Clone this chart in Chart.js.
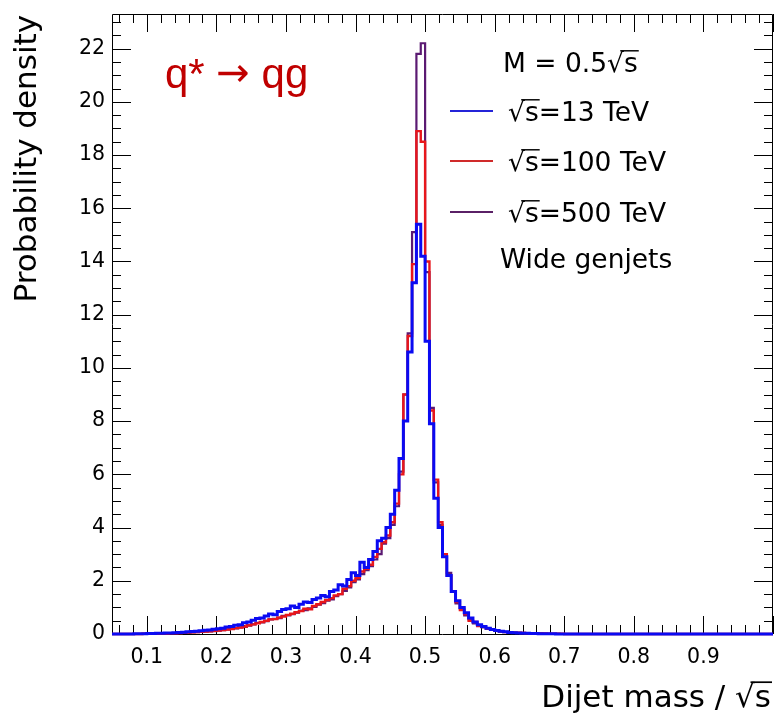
<!DOCTYPE html>
<html><head><meta charset="utf-8">
<script src="https://cdn.jsdelivr.net/npm/chart.js@4.4.0/dist/chart.umd.min.js"></script>
<style>html,body{margin:0;padding:0;background:#fff;}canvas{display:block}</style>
</head><body>
<canvas id="c" width="774" height="715"></canvas>
<script>
// ---- data ----
const BIN_START = 0.05;
const BIN_WIDTH = 0.00625;
const xTickValues = [0.1,0.2,0.3,0.4,0.5,0.6,0.7,0.8,0.9];
const xTickLabels = ['0.1','0.2','0.3','0.4','0.5','0.6','0.7','0.8','0.9'];
const yTickValues = [0,2,4,6,8,10,12,14,16,18,20,22];
const yTickLabels = ['0','2','4','6','8','10','12','14','16','18','20','22'];
const seriesLabels = ['=13 TeV','=100 TeV','=500 TeV'];

const sqrt13 = [
0,0,0,0,0,0,0.01,0.01,0.01,0.02,
0.02,0.03,0.03,0.04,0.04,0.05,0.06,0.07,0.08,0.09,
0.10,0.12,0.14,0.15,0.18,0.20,0.22,0.26,0.28,0.33,
0.35,0.42,0.45,0.52,0.58,0.60,0.68,0.75,0.72,0.85,
0.92,0.95,1.05,1.00,1.12,1.20,1.18,1.30,1.35,1.45,
1.40,1.60,1.65,1.85,1.80,2.05,2.30,2.20,2.70,2.50,
2.80,3.10,3.50,3.60,4.00,4.50,5.40,6.60,8.00,10.6,
13.2,15.4,14.2,11.0,7.9,5.1,4.0,2.9,2.2,1.6,
1.25,1.0,0.8,0.6,0.45,0.35,0.28,0.22,0.17,0.13,
0.10,0.08,0.06,0.05,0.04,0.03,0.03,0.02,0.02,0.01,
0.01,0.01,0.01,0,0,0,0,0,0,0,
0,0,0,0,0,0,0,0,0,0,
0,0,0,0,0,0,0,0,0,0,
0,0,0,0,0,0,0,0,0,0,
0,0,0,0,0,0,0,0,0,0,
0,0];

const sqrt100 = [
0,0,0,0,0,0,0,0,0.01,0.01,
0.01,0.02,0.02,0.02,0.03,0.03,0.04,0.05,0.05,0.06,
0.07,0.08,0.09,0.10,0.12,0.13,0.15,0.17,0.19,0.22,
0.24,0.28,0.33,0.36,0.40,0.45,0.50,0.55,0.56,0.62,
0.66,0.72,0.76,0.82,0.86,0.95,0.93,1.05,1.12,1.20,
1.28,1.35,1.45,1.50,1.70,1.80,2.00,2.10,2.35,2.45,
2.60,2.90,3.20,3.45,3.70,4.20,4.90,6.00,9.00,11.2,
13.9,18.9,18.5,14.0,8.4,5.8,4.2,3.0,2.2,1.6,
1.2,0.9,0.75,0.5,0.45,0.3,0.27,0.2,0.16,0.12,
0.10,0.07,0.07,0.05,0.05,0.04,0.03,0.03,0.02,0.02,
0.02,0.01,0.01,0.01,0.01,0,0,0,0,0,
0,0,0,0,0,0,0,0,0,0,
0,0,0,0,0,0,0,0,0,0,
0,0,0,0,0,0,0,0,0,0,
0,0,0,0,0,0,0,0,0,0,
0,0];

const sqrt500 = [
0,0,0,0,0,0,0,0,0.01,0.01,
0.01,0.01,0.02,0.02,0.03,0.03,0.03,0.04,0.05,0.06,
0.07,0.08,0.09,0.10,0.11,0.13,0.14,0.17,0.20,0.21,
0.25,0.27,0.31,0.36,0.42,0.44,0.48,0.55,0.57,0.60,
0.68,0.70,0.75,0.80,0.88,0.90,0.96,1.02,1.10,1.16,
1.25,1.30,1.42,1.50,1.62,1.75,1.95,2.05,2.25,2.40,
2.55,2.80,3.00,3.40,3.60,4.10,4.80,6.10,9.00,11.3,
15.1,21.8,22.2,13.6,8.5,5.7,4.1,3.0,2.3,1.6,
1.15,0.95,0.7,0.55,0.4,0.32,0.25,0.2,0.15,0.12,
0.09,0.08,0.06,0.05,0.04,0.04,0.03,0.02,0.02,0.02,
0.01,0.01,0.01,0.01,0,0,0,0,0,0,
0,0,0,0,0,0,0,0,0,0,
0,0,0,0,0,0,0,0,0,0,
0,0,0,0,0,0,0,0,0,0,
0,0,0,0,0,0,0,0,0,0,
0,0];

// ---- styles ----
const COLORS = ['#0a0af2', '#e8161b', '#5b1a72'];
const LEGEND_COLORS = ['#2424d8', '#d02a2a', '#5a2066'];
const FONT = '"DejaVu Sans", "Liberation Sans", Arial, sans-serif';
const LABEL_FONT = '"Liberation Sans", Arial, sans-serif';

function toSteps(vals) {
  const pts = vals.map((v, i) => ({x: BIN_START + i * BIN_WIDTH, y: v}));
  pts.push({x: BIN_START + vals.length * BIN_WIDTH, y: vals[vals.length - 1]});
  return pts;
}

function drawSqrtS(ctx, x, y, size) {
  const w1 = ctx.measureText('\u221A').width;
  const w2 = ctx.measureText('s').width;
  ctx.fillText('\u221A', x, y);
  ctx.fillText('s', x + w1, y);
  ctx.save();
  ctx.lineWidth = Math.max(1, size * 0.055);
  ctx.strokeStyle = ctx.fillStyle;
  ctx.beginPath();
  const ly = y - size * 0.80;
  ctx.moveTo(x + w1 * 0.78, ly);
  ctx.lineTo(x + w1 + w2 + 1, ly);
  ctx.stroke();
  ctx.restore();
  return w1 + w2;
}

const framePlugin = {
  id: 'frame',
  beforeDatasetsDraw(chart) {
    const ctx = chart.ctx;
    const xs = chart.scales.x, ys = chart.scales.y;
    const {left, right, top, bottom} = chart.chartArea;
    ctx.save();
    ctx.strokeStyle = '#000';
    ctx.lineWidth = 1;
    ctx.beginPath();
    ctx.rect(left + 0.5, top + 0.5, right - left - 1, bottom - top);
    ctx.stroke();
    ctx.beginPath();
    for (let k = 3; k <= 50; k++) {
      const v = k * 0.02;
      const px = Math.round(xs.getPixelForValue(v)) + 0.5;
      const major = (k % 5 === 0);
      const len = major ? 18 : 9;
      ctx.moveTo(px, bottom); ctx.lineTo(px, bottom - len);
      ctx.moveTo(px, top); ctx.lineTo(px, top + len);
    }
    for (let k = 1; k <= 46; k++) {
      const v = k * 0.5;
      const py = Math.round(ys.getPixelForValue(v)) + 0.5;
      const major = (k % 4 === 0);
      const len = major ? 19 : 9;
      ctx.moveTo(left, py); ctx.lineTo(left + len, py);
      ctx.moveTo(right, py); ctx.lineTo(right - len, py);
    }
    ctx.stroke();
    ctx.restore();
  },
  afterDraw(chart) {
    const ctx = chart.ctx;
    ctx.save();
    ctx.fillStyle = '#000';
    ctx.textBaseline = 'alphabetic';
    ctx.save();
    ctx.translate(36, 15);
    ctx.rotate(-Math.PI / 2);
    ctx.font = '31px ' + FONT;
    ctx.textAlign = 'right';
    ctx.fillText('Probability density', 0, 0);
    ctx.restore();
    ctx.font = '31px ' + FONT;
    ctx.textAlign = 'left';
    const pre = 'Dijet mass / ';
    const wsq = ctx.measureText('\u221As').width;
    const wpre = ctx.measureText(pre).width;
    const x0 = 771 - wsq - wpre;
    ctx.fillText(pre, x0, 707);
    drawSqrtS(ctx, x0 + wpre, 707, 31);
    ctx.font = '26.5px ' + FONT;
    const mTxt = 'M = 0.5';
    ctx.fillText(mTxt, 503, 72);
    drawSqrtS(ctx, 503 + ctx.measureText(mTxt).width, 72, 26.5);
    const ly = [111, 161, 212];
    const by = [121, 171, 222];
    for (let i = 0; i < 3; i++) {
      ctx.strokeStyle = LEGEND_COLORS[i];
      ctx.lineWidth = 2.2;
      ctx.beginPath();
      ctx.moveTo(450, ly[i]); ctx.lineTo(493, ly[i]);
      ctx.stroke();
      ctx.fillStyle = '#000';
      const w = drawSqrtS(ctx, 508, by[i], 26.5);
      ctx.fillText(seriesLabels[i], 508 + w, by[i]);
    }
    ctx.fillText('Wide genjets', 500, 268);
    // process label: q* → qg
    ctx.fillStyle = '#c00000';
    let px = 165;
    ctx.font = '42px ' + LABEL_FONT;
    ctx.fillText('q* ', px, 88);
    px += ctx.measureText('q* ').width;
    ctx.font = '40px "DejaVu Sans", sans-serif';
    ctx.fillText('\u2192', px, 86);
    px += ctx.measureText('\u2192').width;
    ctx.font = '42px ' + LABEL_FONT;
    ctx.fillText(' qg', px, 88);
    ctx.restore();
  }
};

const datasets = [sqrt13, sqrt100, sqrt500].map((vals, i) => ({
  label: seriesLabels[i],
  data: toSteps(vals),
  stepped: 'after',
  borderColor: COLORS[i],
  borderWidth: [3, 2.4, 2.2][i],
  pointRadius: 0,
  fill: false,
  clip: false,
  borderJoinStyle: 'miter',
  order: i
}));

new Chart(document.getElementById('c'), {
  type: 'line',
  data: {datasets},
  options: {
    responsive: false,
    animation: false,
    devicePixelRatio: 1,
    layout: {padding: {top: 14, right: 1, left: 0, bottom: 0}},
    plugins: {legend: {display: false}, tooltip: {enabled: false}},
    scales: {
      x: {
        type: 'linear', min: 0.05, max: 1.0,
        afterBuildTicks: s => { s.ticks = xTickValues.map(v => ({value: v})); },
        afterFit: s => { s.height = 81; s.paddingLeft = 0; s.paddingRight = 0; },
        grid: {display: false, drawTicks: false},
        border: {display: false},
        ticks: {
          autoSkip: false, maxRotation: 0, padding: 11, color: '#000',
          font: {family: FONT, size: 20.5},
          callback: (v, i) => xTickLabels[i]
        }
      },
      y: {
        type: 'linear', min: 0, max: 23.3,
        afterBuildTicks: s => { s.ticks = yTickValues.map(v => ({value: v})); },
        afterFit: s => { s.width = 112; s.paddingTop = 0; s.paddingBottom = 0; },
        grid: {display: false, drawTicks: false},
        border: {display: false},
        ticks: {
          autoSkip: false, padding: 7, color: '#000',
          font: {family: FONT, size: 20.5},
          callback: (v, i) => yTickLabels[i]
        }
      }
    }
  },
  plugins: [framePlugin]
});
</script>
</body></html>
